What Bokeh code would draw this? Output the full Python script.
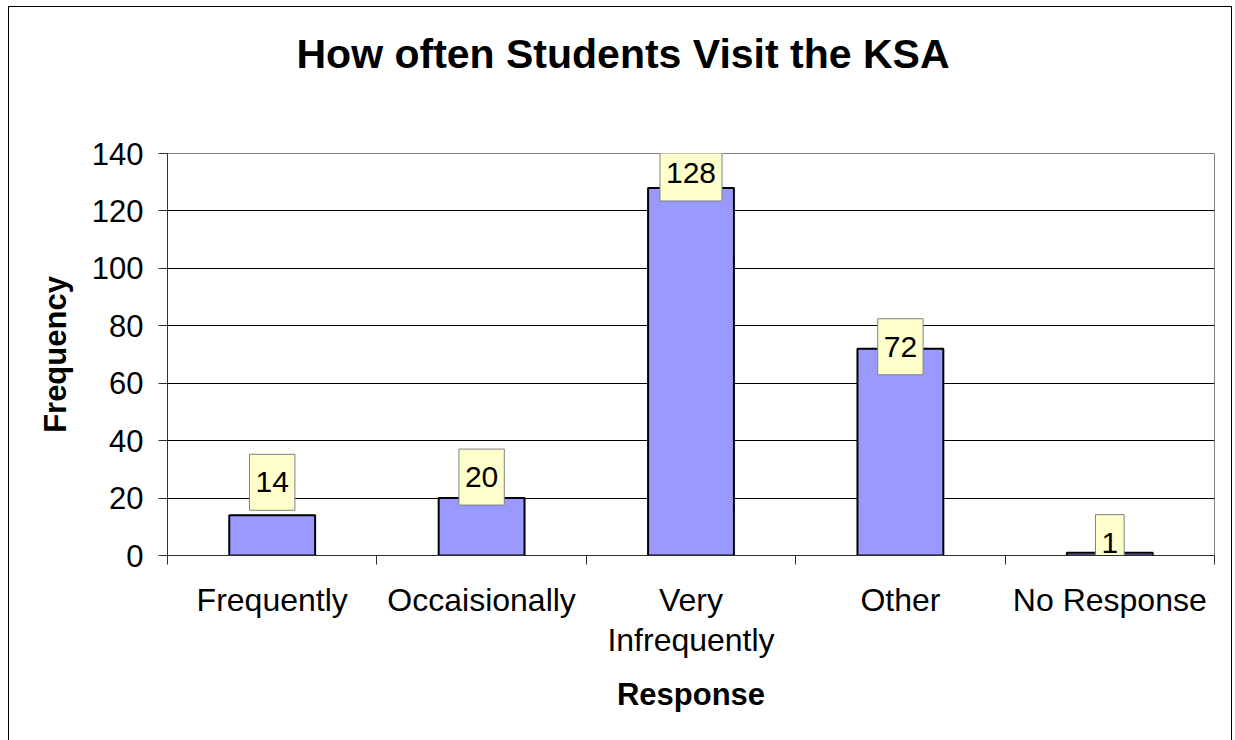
from bokeh.plotting import figure
from bokeh.models import ColumnDataSource, FixedTicker, Range1d, Title
from bokeh.core.properties import value
from bokeh.embed import file_html
from bokeh.resources import INLINE

# ---- data ----
categories = ["Frequently", "Occaisionally", "Very\nInfrequently", "Other", "No Response"]
frequency = [14, 20, 128, 72, 1]
y_ticks = [0, 20, 40, 60, 80, 100, 120, 140]
label_lift_px = [33, 21, 15, 2, 10]

title_text = "How often Students Visit the KSA"
x_title = "Response"
y_title = "Frequency"

FONT = "Liberation Sans"

xs = [i + 0.5 for i in range(len(categories))]
bounds = list(range(len(categories) + 1))

src = ColumnDataSource(dict(
    x=xs,
    top=frequency,
    label=[str(v) for v in frequency],
    yoff=[-v for v in label_lift_px],
))

p = figure(width=1235, height=740, output_backend="svg", toolbar_location=None,
           x_range=Range1d(0, len(categories)), y_range=Range1d(0, y_ticks[-1]),
           min_border_left=167, min_border_right=21, min_border_top=153, min_border_bottom=185,
           background_fill_color="white", border_fill_color=None)
p.title_location = None

# outer chart border (drawn behind the transparent canvas border area)
p.styles = {
    "background": (
        "linear-gradient(#000,#000) 8px 6px / 1px 100% no-repeat, "
        "linear-gradient(#000,#000) 8px 6px / 1224px 1px no-repeat, "
        "linear-gradient(#000,#000) 1231px 6px / 1px 100% no-repeat, "
        "#ffffff"
    )
}

p.vbar(x="x", top="top", width=0.41, source=src,
       fill_color="#9999FF", line_color="black", line_width=2)

p.text(x="x", y="top", text="label", y_offset="yoff", source=src,
       text_align="center", text_baseline="middle",
       text_font=value(FONT), text_font_size="30px", text_color="black",
       background_fill_color="#FFFFCC", border_line_color="#808080", border_line_width=1,
       padding=(6, 18))

# title (trailing line break leaves the blank band between title and plot area)
title = Title(text=title_text + "\n", align="left", offset=129, vertical_align="top",
              text_font=FONT, text_font_style="bold", text_font_size="41px",
              text_line_height=1.52, text_color="black")
p.add_layout(title, "above")

# frame / grid
p.outline_line_color = "#808080"
p.outline_line_width = 1
p.xgrid.visible = False
p.ygrid.ticker = FixedTicker(ticks=y_ticks)
p.ygrid.grid_line_color = "black"
p.ygrid.grid_line_width = 1

# y axis
ya = p.yaxis[0]
ya.ticker = FixedTicker(ticks=y_ticks)
ya.major_tick_in = 0
ya.major_tick_out = 9
ya.minor_tick_line_color = None
ya.axis_line_color = "#303030"
ya.major_tick_line_color = "#303030"
ya.major_label_text_font = FONT
ya.major_label_text_font_size = "31px"
ya.major_label_text_color = "black"
ya.major_label_standoff = 15
ya.axis_label = y_title
ya.axis_label_text_font = FONT
ya.axis_label_text_font_style = "bold"
ya.axis_label_text_font_size = "31px"
ya.axis_label_text_color = "black"
ya.axis_label_standoff = 16

# x axis
xa = p.below[0]
xa.ticker = FixedTicker(ticks=xs, minor_ticks=bounds)
xa.major_label_overrides = {x: c for x, c in zip(xs, categories)}
xa.major_tick_in = 0
xa.major_tick_out = 9
xa.major_tick_line_color = None
xa.minor_tick_in = 0
xa.minor_tick_out = 9
xa.minor_tick_line_color = "#303030"
xa.axis_line_color = "#303030"
xa.major_label_text_font = FONT
xa.major_label_text_font_size = "32px"
xa.major_label_text_color = "black"
xa.major_label_text_line_height = 1.12
xa.major_label_standoff = 17
xa.axis_label = x_title
xa.axis_label_text_font = FONT
xa.axis_label_text_font_style = "bold"
xa.axis_label_text_font_size = "31px"
xa.axis_label_text_color = "black"
xa.axis_label_standoff = 16

open("out.html", "w").write(file_html(p, INLINE))
